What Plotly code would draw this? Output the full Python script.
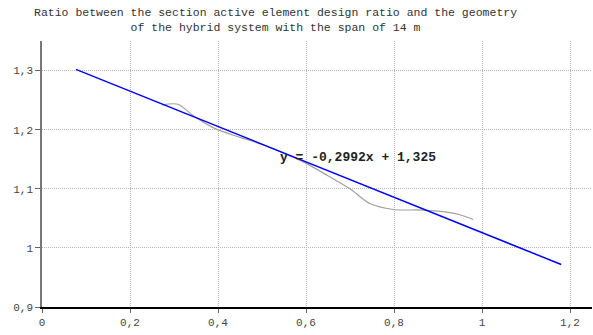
import plotly.graph_objects as go

# Data series
ratio_x = [0.273, 0.309, 0.345, 0.39, 0.45, 0.5, 0.54, 0.6, 0.65, 0.7, 0.745, 0.798, 0.866, 0.916, 0.95, 0.98]
ratio_y = [1.242, 1.243, 1.223, 1.203, 1.187, 1.175, 1.163, 1.143, 1.122, 1.100, 1.075, 1.065, 1.064, 1.061, 1.056, 1.048]

# Linear trendline: y = -0.2992x + 1.325
trend_slope = -0.2992
trend_intercept = 1.325
trend_x = [0.077, 1.18]
trend_y = [trend_slope * v + trend_intercept for v in trend_x]

x_ticks = [0, 0.2, 0.4, 0.6, 0.8, 1, 1.2]
y_ticks = [0.9, 1.0, 1.1, 1.2, 1.3]

title_lines = ["Ratio between the section active element design ratio and the geometry",
               "of the hybrid system with the span of 14 m"]
equation_text = "y = -0,2992x + 1,325"

font = "Liberation Mono, Courier New, monospace"

fig = go.Figure()
fig.add_trace(go.Scatter(x=ratio_x, y=ratio_y, mode="lines",
                         line=dict(color="#a0a0a0", width=1.2, shape="spline", smoothing=0.8),
                         showlegend=False, hoverinfo="skip"))
fig.add_trace(go.Scatter(x=trend_x, y=trend_y, mode="lines",
                         line=dict(color="#0000ff", width=1.5),
                         showlegend=False, hoverinfo="skip"))

fig.add_annotation(x=0.719, y=1.153, xref="x", yref="y", text="<b>" + equation_text + "</b>",
                   showarrow=False, font=dict(family=font, size=13, color="#222222"))

fig.add_annotation(x=(275 - 42) / 550, y=1, xref="paper", yref="paper", xanchor="center", yanchor="bottom",
                   yshift=5, text="<br>".join(title_lines), showarrow=False,
                   font=dict(family=font, size=11.5, color="#333333"))

grid_style = dict(showgrid=True, gridcolor="#b4b4b4", griddash="1px,1px", gridwidth=1, zeroline=False)

fig.update_layout(
    width=593, height=335,
    margin=dict(l=42, r=1, t=41, b=28),
    paper_bgcolor="white", plot_bgcolor="white",
    separators=", ",
    font=dict(family=font, size=11, color="#444444"),
    xaxis=dict(range=[0, 1.25], tickvals=x_ticks, showline=True, linecolor="#000000",
               linewidth=1.5, ticks="outside", ticklen=4, tickcolor="#666666",
               tickfont=dict(family=font, size=11, color="#444444"), **grid_style),
    yaxis=dict(range=[0.9, 1.35], tickvals=y_ticks, showline=True, linecolor="#777777",
               linewidth=1.5, ticks="outside", ticklen=5, tickcolor="#666666",
               tickfont=dict(family=font, size=11, color="#444444"), **grid_style),
)

fig.write_html("out.html", config={"displayModeBar": False},
               post_script="document.body.style.margin='0';document.body.style.overflow='hidden';")
